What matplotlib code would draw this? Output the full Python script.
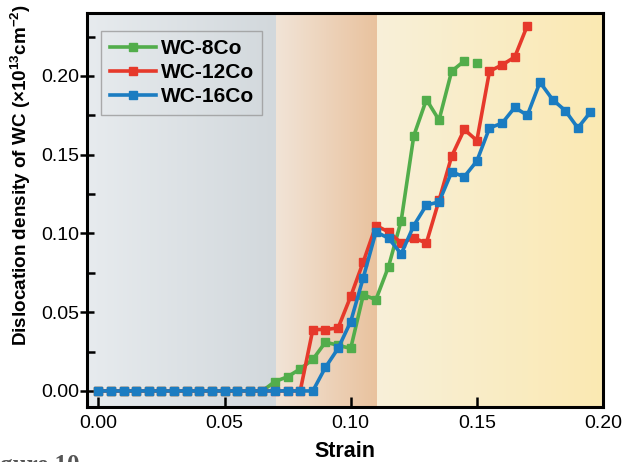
import numpy as np
import matplotlib
matplotlib.use("Agg")
import matplotlib.pyplot as plt
from matplotlib.colors import to_rgb

plt.rcParams['font.family'] = ['Liberation Sans', 'DejaVu Sans']
plt.rcParams['mathtext.fontset'] = 'custom'
plt.rcParams['mathtext.rm'] = 'Liberation Sans'
plt.rcParams['mathtext.bf'] = 'Liberation Sans:bold'

# Strain steps of 0.005
strain_16 = np.round(np.arange(0, 0.1951, 0.005), 3)
rho_16 = [0, 0, 0, 0, 0, 0, 0, 0, 0, 0, 0, 0, 0, 0, 0, 0, 0, 0,
          0.015, 0.027, 0.044, 0.072, 0.101, 0.097, 0.087, 0.105, 0.118,
          0.120, 0.139, 0.136, 0.146, 0.167, 0.170, 0.180, 0.175, 0.196,
          0.185, 0.178, 0.167, 0.177]

strain_12 = np.round(np.arange(0, 0.1701, 0.005), 3)
rho_12 = [0, 0, 0, 0, 0, 0, 0, 0, 0, 0, 0, 0, 0, 0, 0, 0, 0,
          0.039, 0.039, 0.040, 0.060, 0.082, 0.105, 0.101, 0.094, 0.097,
          0.094, 0.121, 0.149, 0.166, 0.159, 0.203, 0.207, 0.212, 0.232]

strain_8 = np.round(np.arange(0, 0.1501, 0.005), 3)
rho_8 = [0, 0, 0, 0, 0, 0, 0, 0, 0, 0, 0, 0, 0, 0.0,
         0.006, 0.009, 0.014, 0.020, 0.031, 0.029, 0.027, 0.061, 0.058,
         0.079, 0.108, 0.162, 0.185, 0.172, 0.203, 0.2095, 0.2085]

series = [
    ("WC-8Co", strain_8, rho_8, "#52ad4b"),
    ("WC-12Co", strain_12, rho_12, "#e6392b"),
    ("WC-16Co", strain_16, rho_16, "#1b7cc1"),
]

# Deformation stages shaded with horizontal gradients
stages = [
    (-0.0045, 0.0705, "#e7ebee", "#d2d8dc"),
    (0.0705, 0.1105, "#f1e4d7", "#e9c29e"),
    (0.1105, 0.2, "#f8f0d9", "#fbe9b2"),
]

fig = plt.figure(figsize=(6.23, 4.62), dpi=100)
ax = fig.add_axes([0.1396, 0.119, 0.8284, 0.853])
ylim = (-0.0102, 0.24)

for x0, x1, c0, c1 in stages:
    t = np.linspace(0, 1, 256)
    a, b = np.array(to_rgb(c0)), np.array(to_rgb(c1))
    grad = (a[None, :] * (1 - t[:, None]) + b[None, :] * t[:, None])[None, :, :]
    ax.imshow(grad, extent=[x0, x1, ylim[0], ylim[1]], aspect='auto',
              origin='lower', zorder=0, interpolation='bilinear')

handles = []
for name, xs, ys, color in series:
    xs = np.asarray(xs)
    ys = np.asarray(ys)
    if name == "WC-8Co":
        # last point stands apart from the connected curve
        ax.plot(xs[:-1], ys[:-1], color=color, lw=2.6, marker='s', ms=6.2,
                zorder=3)
        ax.plot(xs[-1:], ys[-1:], ls='none', marker='s', ms=6.2,
                color=color, zorder=3)
    else:
        ax.plot(xs, ys, color=color, lw=2.6, marker='s', ms=6.2, zorder=3)
    h, = ax.plot([], [], color=color, lw=2.6, marker='s', ms=6.2, label=name)
    handles.append(h)

ax.set_xlim(-0.0045, 0.2)
ax.set_ylim(*ylim)
ax.set_xticks([0.0, 0.05, 0.10, 0.15, 0.20])
ax.set_yticks([0.0, 0.05, 0.10, 0.15, 0.20])
ax.set_yticks(np.arange(0.025, 0.24, 0.05), minor=True)
ax.xaxis.set_major_formatter(matplotlib.ticker.FormatStrFormatter('%.2f'))
ax.yaxis.set_major_formatter(matplotlib.ticker.FormatStrFormatter('%.2f'))
ax.tick_params(axis='x', which='major', direction='in', length=7, width=1.8,
               labelsize=14, pad=6)
ax.tick_params(axis='y', which='major', direction='inout', length=10, width=1.8,
               labelsize=14, pad=0.5)
ax.tick_params(axis='y', which='minor', direction='in', length=6, width=1.8)
for s in ax.spines.values():
    s.set_linewidth(2.2)

ax.set_xlabel("Strain", fontsize=15.5, fontweight='bold', labelpad=6)
ax.set_ylabel(r"Dislocation density of WC (×10$\mathbf{^{13}}$cm$\mathbf{^{-2}}$)",
              fontsize=13.6, fontweight='bold')
ax.yaxis.set_label_coords(-0.104, 0.59)

leg = ax.legend(handles=handles, loc='upper left', bbox_to_anchor=(0.028, 0.955),
                borderaxespad=0, fancybox=False,
                prop={'weight': 'bold', 'size': 15}, handlelength=2.2,
                handletextpad=0.25, labelspacing=0.25, borderpad=0.4)
leg.get_frame().set_facecolor('none')
leg.get_frame().set_edgecolor('#9a9a9a')
leg.get_frame().set_linewidth(1.0)

fig.text(-0.035, -0.021, "Figure 10", family=['Liberation Serif', 'DejaVu Serif'],
         fontsize=18, fontweight='bold', color='#555555', ha='left', va='baseline')

fig.savefig("out.png", dpi=100)
